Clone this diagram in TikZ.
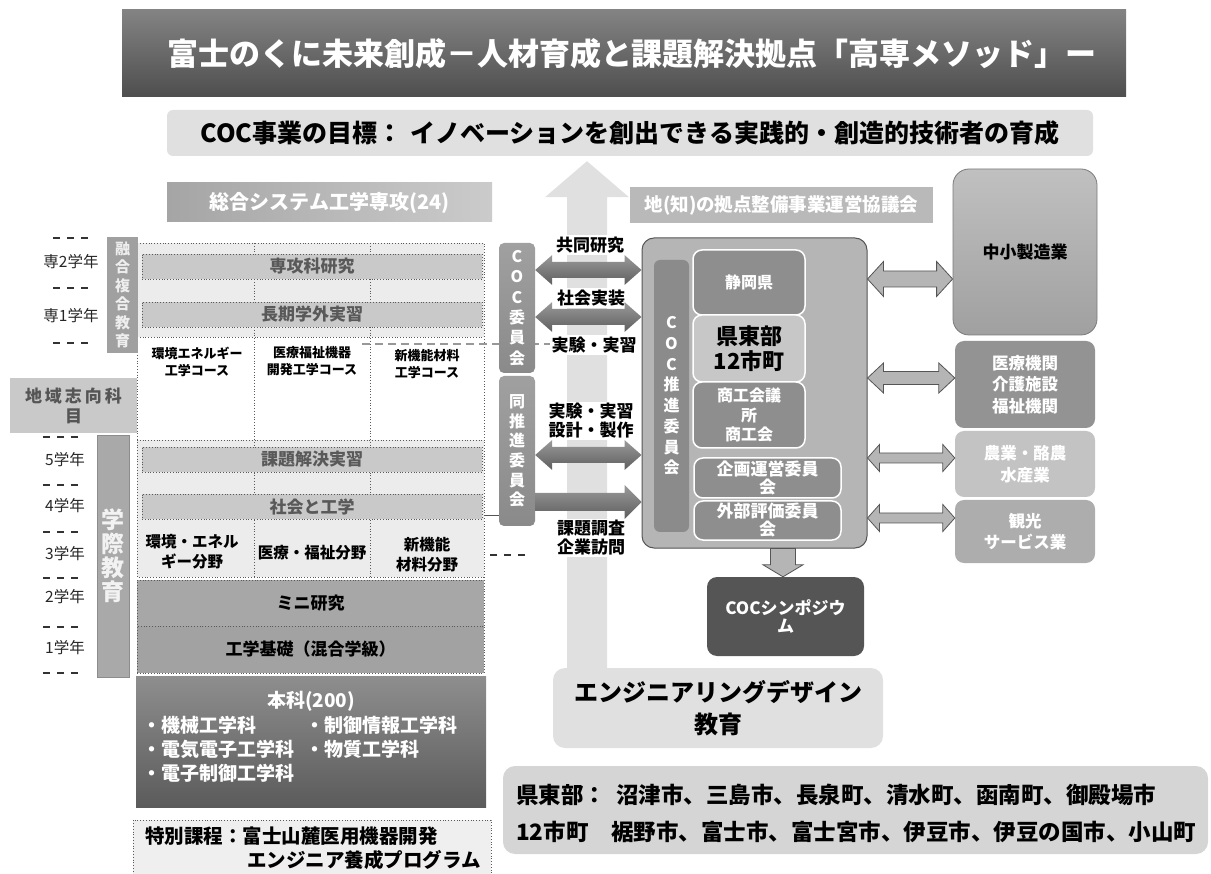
\documentclass[tikz,border=0pt]{standalone}
\usepackage{fontspec}
\setmainfont{Noto Sans CJK JP}
\usetikzlibrary{calc}
\definecolor{g83}{HTML}{838383}
\definecolor{g4E}{HTML}{4E4E4E}
\definecolor{gE0}{HTML}{E0E0E0}
\definecolor{gEC}{HTML}{ECECEC}
\definecolor{gC9}{HTML}{C9C9C9}
\definecolor{g59}{HTML}{595959}
\definecolor{g5A}{HTML}{5A5A5A}
\definecolor{gA5}{HTML}{A5A5A5}
\definecolor{gCB}{HTML}{CBCBCB}
\definecolor{gB9}{HTML}{B9B9B9}
\definecolor{gA7}{HTML}{A7A7A7}
\definecolor{gA2}{HTML}{A2A2A2}
\definecolor{g8E}{HTML}{8E8E8E}
\definecolor{g5B}{HTML}{5B5B5B}
\definecolor{gEF}{HTML}{EFEFEF}
\definecolor{g55}{HTML}{555555}
\definecolor{gA9}{HTML}{A9A9A9}
\definecolor{g8C}{HTML}{8C8C8C}
\definecolor{gF2}{HTML}{F2F2F2}
\definecolor{gEE}{HTML}{EEEEEE}
\definecolor{g9A}{HTML}{9A9A9A}
\definecolor{gA0}{HTML}{A0A0A0}
\definecolor{g8A}{HTML}{8A8A8A}
\definecolor{g8B}{HTML}{8B8B8B}
\definecolor{gC7}{HTML}{C7C7C7}
\definecolor{gC0}{HTML}{C0C0C0}
\definecolor{g7A}{HTML}{7A7A7A}
\definecolor{g93}{HTML}{939393}
\definecolor{gC3}{HTML}{C3C3C3}
\definecolor{gAD}{HTML}{ADADAD}
\definecolor{gD5}{HTML}{D5D5D5}
\definecolor{gB5}{HTML}{B5B5B5}
\definecolor{g5E}{HTML}{5E5E5E}
\definecolor{g98}{HTML}{989898}
\newcommand\fsz[2]{\fontsize{#1pt}{#2pt}\selectfont}
% double fat arrow: #1 left end, #2 right end, #3 head length, #4 head half, #5 shaft half, #6 style
\newcommand\hdarrow[6]{%
  \path[#6] (#1) -- ++(#3,-#4) -- ++(0,#4-#5) -- ($(#2)+(-#3,-#5)$) -- ++(0,#5-#4) -- (#2)
    -- ++(-#3,#4) -- ++(0,#5-#4) -- ($(#1)+(#3,#5)$) -- ++(0,#4-#5) -- cycle;}
% single fat arrow to the right
\newcommand\hsarrow[6]{%
  \path[#6] ($(#1)+(0,-#5)$) -- ($(#2)+(-#3,-#5)$) -- ++(0,#5-#4) -- (#2)
    -- ++(-#3,#4) -- ++(0,#5-#4) -- ($(#1)+(0,#5)$) -- cycle;}
\begin{document}
\begin{tikzpicture}[x=1pt,y=-1pt,
  bx/.style={inner sep=0pt, align=center},
  band/.style={bx, fill=gC9, draw=g5A, dotted, line width=0.8pt, minimum width=340, minimum height=25, text=g59, font=\fsz{17}{20}\bfseries},
  lowband/.style={bx, draw=g5A, dotted, line width=0.8pt, minimum width=347, font=\fsz{17}{20}\bfseries},
  dotline/.style={draw=g5A, dotted, line width=0.8pt},
  yeardash/.style={draw=black!80, line width=1.2pt, dash pattern=on 7pt off 7pt},
  yearlbl/.style={inner sep=0pt, font=\fsz{15.5}{18}, text=black!85},
  crs/.style={bx, font=\fsz{13}{17}\bfseries},
  fld/.style={bx, font=\fsz{15.5}{20}\bfseries},
  item/.style={bx, anchor=west, text=white, font=\fsz{19}{22}\bfseries},
  albl/.style={bx, fill=white, inner sep=1.5pt, font=\fsz{17}{19}\bfseries},
  darr/.style={top color=g9A, bottom color=g5E},
  rarr/.style={fill=gB5, draw=g55, line width=0.8pt},
  ibox/.style={bx, fill=g8E, draw=white, line width=1.5pt, rounded corners=9pt, text=white, font=\fsz{16}{19.5}\bfseries},
  rbox/.style={bx, rounded corners=9pt, minimum width=140, text=white, font=\fsz{16.5}{21.5}\bfseries},
]
\useasboundingbox (0,0) rectangle (1211,874);

% ---------- headers ----------
\node[bx, top color=g83, bottom color=g4E, minimum width=1004, minimum height=87, text=white,
  font=\fsz{31}{36}\bfseries] (title) at (624,53.5)
  {\hspace{16pt}富士のくに未来創成－人材育成と課題解決拠点「高専メソッド」ー};
\node[bx, fill=gE0, rounded corners=6pt, minimum width=926, minimum height=46,
  font=\fsz{25}{30}\bfseries] (goal) at (630,133)
  {COC事業の目標：\hspace{8pt}イノベーションを創出できる実践的・創造的技術者の育成};
\node[bx, fill=gE0, rounded corners=12pt, minimum width=330, minimum height=80,
  font=\fsz{24}{32}\bfseries] (design) at (718,708) {エンジニアリングデザイン\\教育};

% ---------- big upward arrow ----------
\coordinate (upbase) at (587,0 |- design.north);
\coordinate (uptip) at ($(587,0 |- goal.south)+(0,5)$);
\fill[gE0] ($(upbase)+(-20,0)$) -- ($(uptip)+(-20,36)$) -- ($(uptip)+(-42,36)$) -- (uptip)
  -- ($(uptip)+(42,36)$) -- ($(uptip)+(20,36)$) -- ($(upbase)+(20,0)$) -- cycle;

\node[bx, left color=gA5, right color=gCB, minimum width=325, minimum height=39, text=white,
  font=\fsz{20}{24}\bfseries] (sogo) at (329.5,202.5) {総合システム工学専攻(24)};
\node[bx, fill=gB9, minimum width=303, minimum height=36, text=white,
  font=\fsz{18.5}{22}\bfseries] (chi) at (781.5,205) {地(知)の拠点整備事業運営協議会};

% ---------- curriculum grid ----------
\fill[gEC] (137,243) rectangle (484,337);
\fill[gEC] (137,440) rectangle (484,577);
\draw[dotline] (137,243) rectangle (484,577);
\draw[dotline] (137,337) -- (484,337) (137,440) -- (484,440)
  (254,243) -- (254,577) (370,243) -- (370,577);

\node[band] (senkoken) at (312,266.5) {専攻科研究};
\node[band] (choki) at (312,314.5) {長期学外実習};
\node[band] (kadai) at (312,459.5) {課題解決実習};
\node[band] (shakai) at (312,506.5) {社会と工学};

\node[crs] (crs1) at (197,362) {環境エネルギー\\工学コース};
\node[crs] (crs2) at (312,361) {医療福祉機器\\開発工学コース};
\node[crs] (crs3) at (427,364) {新機能材料\\工学コース};

\node[fld] (fld1) at (192,552) {環境・エネル\\ギー分野};
\node[fld] (fld2) at (312,553) {医療・福祉分野};
\node[fld] (fld3) at (427,555) {新機能\\材料分野};

\node[lowband, fill=gA7, minimum height=46] (mini) at (310.5,603) {ミニ研究};
\node[lowband, fill=gA2, minimum height=47] (kiso) at (310.5,649.5) {工学基礎（混合学級）};

\node[bx, top color=g8E, bottom color=g5B, minimum width=350, minimum height=131] (honka) at (311,741.5) {};
\node[bx, text=white, font=\fsz{19}{22}\bfseries] (honkat) at (311,701) {本科(200)};
\node[item] (hk1) at (142,725) {・機械工学科};
\node[item] (hk2) at (305,725) {・制御情報工学科};
\node[item] (hk3) at (142,749) {・電気電子工学科};
\node[item] (hk4) at (305,749) {・物質工学科};
\node[item] (hk5) at (142,773) {・電子制御工学科};

\node[bx, fill=gEF, draw=g5A, dotted, line width=0.8pt, minimum width=358, minimum height=62] (toku) at (312,851) {};
\node[bx, anchor=west, font=\fsz{19.5}{24}\bfseries] (toku1) at (145,836) {特別課程：富士山麓医用機器開発};
\node[bx, anchor=west, font=\fsz{19.5}{24}\bfseries] (toku2) at (247,860) {エンジニア養成プログラム};

% ---------- year labels ----------
\foreach \yy in {238,288,343} \draw[yeardash] (53,\yy) -- (89,\yy);
\foreach \yy in {437,485,532,578,627,673} \draw[yeardash] (43,\yy) -- (79,\yy);
\node[yearlbl] (yS2) at (71,262) {専2学年};
\node[yearlbl] (yS1) at (71,316) {専1学年};
\node[yearlbl] (y5) at (65,460) {5学年};
\node[yearlbl] (y4) at (65,506) {4学年};
\node[yearlbl] (y3) at (65,554) {3学年};
\node[yearlbl] (y2) at (65,597) {2学年};
\node[yearlbl] (y1) at (65,648) {1学年};

\node[bx, fill=gA0, minimum width=31, minimum height=116, text=gEE, font=\fsz{15}{18.5}\bfseries] (yugo) at (122.5,295)
  {融\\合\\複\\合\\教\\育};
\node[bx, fill=gC9, minimum width=127, minimum height=55, text=g55, font=\fsz{17}{20}\bfseries] (chiiki) at (73.5,405.5)
  {地\hspace{3pt}域\hspace{3pt}志\hspace{3pt}向\hspace{3pt}科\\目};
\node[bx, fill=gA9, draw=g8C, line width=0.6pt, minimum width=32, minimum height=242, text=gF2,
  font=\fsz{23}{24}\bfseries] (gakusai) at (113,556) {学\\際\\教\\育};

% ---------- dashed guide ----------
\draw[draw=g98, line width=1.2pt, dash pattern=on 8pt off 5pt] (362,344) -- (565,344);

% ---------- COC committees ----------
\node[bx, rounded corners=5pt, top color=gA0, bottom color=g8A, minimum width=36, minimum height=130, text=white,
  font=\fsz{16}{20.4}\bfseries] (cocA) at (517,308) {C\\O\\C\\委\\員\\会};
\node[bx, rounded corners=5pt, top color=gA0, bottom color=g8A, minimum width=36, minimum height=150, text=white,
  font=\fsz{16}{19.6}\bfseries] (cocB) at (517,451) {同\\推\\進\\委\\員\\会};
\coordinate (gridR) at (484,515);
\draw[draw=g55, line width=0.8pt] (gridR) -- (cocB.west |- gridR);
\draw[yeardash] (490,555) -- (525,555);

% ---------- arrow labels ----------
\node[albl] (l1) at (590,245) {共同研究};
\node[albl] (l2) at (591,298) {社会実装};
\node[albl] (l3) at (594,345) {実験・実習};
\node[albl] (l4) at (591,421) {実験・実習\\設計・製作};
\node[albl] (l5) at (591,538) {課題調査\\企業訪問};

% ---------- council ----------
\node[bx, draw=g55, line width=1pt, fill=gB5, rounded corners=12pt, minimum width=225, minimum height=310] (council) at (754.5,393) {};
\node[bx, fill=g8B, rounded corners=6pt, minimum width=35, minimum height=272, text=white,
  font=\fsz{16}{20.7}\bfseries] (cocP) at (671.5,396) {C\\O\\C\\推\\進\\委\\員\\会};
\node[ibox, minimum width=112, minimum height=65] (shizuoka) at (749,282.5) {静岡県};
\node[ibox, fill=gC7, text=black, font=\fsz{22}{25}\bfseries, minimum width=112, minimum height=67] (kento) at (749,348.5) {県東部\\12市町};
\node[ibox, minimum width=112, minimum height=66] (shoko) at (749,415) {商工会議\\所\\商工会};
\node[ibox, minimum width=147, minimum height=40, font=\fsz{17}{18}\bfseries] (kikaku) at (767.5,478) {企画運営委員\\会};
\node[ibox, minimum width=147, minimum height=39, font=\fsz{17}{18}\bfseries] (gaibu) at (767.5,520.5) {外部評価委員\\会};

\node[bx, fill=g55, rounded corners=10pt, minimum width=157, minimum height=79, text=white,
  font=\fsz{17}{18}\bfseries] (sympo) at (785.5,616.5) {COCシンポジウ\\ム};

% ---------- partner boxes ----------
\node[bx, rounded corners=16pt, top color=gC0, bottom color=gA0, draw=g7A, line width=0.8pt, minimum width=144, minimum height=166,
  font=\fsz{17}{20}\bfseries] (seizo) at (1025,252) {中小製造業};
\node[rbox, fill=g93, minimum height=87] (iryo) at (1025,384.5) {医療機関\\介護施設\\福祉機関};
\node[rbox, fill=gC3, minimum height=66] (nogyo) at (1025,464) {農業・酪農\\水産業};
\node[rbox, fill=gAD, minimum height=63] (kanko) at (1025,531.5) {観光\\サービス業};

% ---------- region ----------
\node[bx, fill=gD5, rounded corners=12pt, minimum width=705, minimum height=88] (region) at (855.5,810) {};
\node[bx, anchor=west, font=\fsz{22.5}{26}\bfseries] (reg1) at (516,795) {県東部：\hspace{10pt}沼津市、三島市、長泉町、清水町、函南町、御殿場市};
\node[bx, anchor=west, font=\fsz{22.5}{26}\bfseries] (reg2) at (516,832) {12市町　裾野市、富士市、富士宮市、伊豆市、伊豆の国市、小山町};

% ---------- dark connectors ----------
\coordinate (a1l) at (cocA.east |- 0,270);
\coordinate (a1r) at (council.west |- 0,270);
\hdarrow{a1l}{a1r}{17}{15}{8}{darr}
\coordinate (a2l) at (cocA.east |- 0,317);
\coordinate (a2r) at (council.west |- 0,317);
\hdarrow{a2l}{a2r}{17}{15}{8}{darr}
\coordinate (a3l) at (cocB.east |- 0,455);
\coordinate (a3r) at (council.west |- 0,455);
\hdarrow{a3l}{a3r}{17}{15}{8}{darr}
\coordinate (a4l) at (cocB.east |- 0,502);
\coordinate (a4r) at (council.west |- 0,502);
\hsarrow{a4l}{a4r}{17}{17}{9}{darr}

% ---------- light connectors ----------
\coordinate (b1l) at (council.east |- 0,279);
\coordinate (b1r) at (seizo.west |- 0,279);
\hdarrow{b1l}{b1r}{16}{17.5}{8}{rarr}
\coordinate (b2l) at (council.east |- 0,378);
\coordinate (b2r) at (iryo.west |- 0,378);
\hdarrow{b2l}{b2r}{16}{15}{6.5}{rarr}
\coordinate (b3l) at (council.east |- 0,458);
\coordinate (b3r) at (nogyo.west |- 0,458);
\hdarrow{b3l}{b3r}{12}{13.5}{5}{rarr}
\coordinate (b4l) at (council.east |- 0,518);
\coordinate (b4r) at (kanko.west |- 0,518);
\hdarrow{b4l}{b4r}{12}{13.5}{5}{rarr}

\coordinate (d1) at (council.south -| 783,0);
\coordinate (d2) at (sympo.north -| 783,0);
\path[rarr] ($(d1)+(-12.5,0)$) -- ($(d2)+(-12.5,-12)$) -- ($(d2)+(-20,-12)$) -- (d2)
  -- ($(d2)+(20,-12)$) -- ($(d2)+(12.5,-12)$) -- ($(d1)+(12.5,0)$) -- cycle;
\end{tikzpicture}
\end{document}
